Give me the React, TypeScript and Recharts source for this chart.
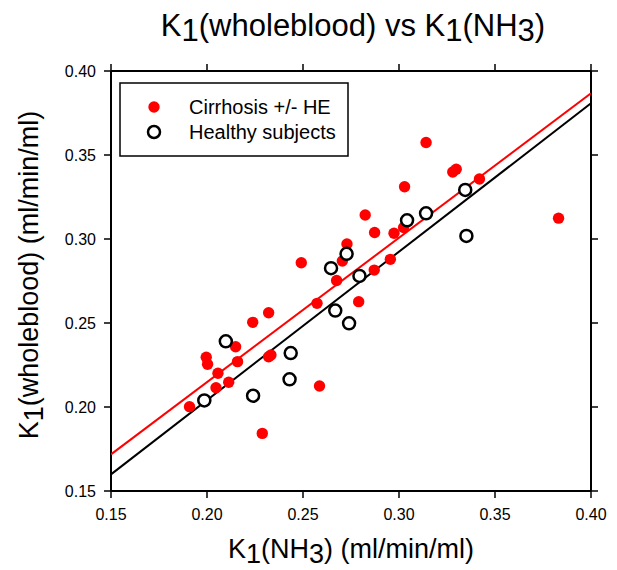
import { ScatterChart, Scatter, XAxis, YAxis } from "recharts";

// values
const cirrhosisX = [
  0.1909, 0.1996, 0.2003, 0.2057, 0.2047, 0.2113, 0.2149, 0.2159, 0.2238, 0.2321, 0.2321,
  0.2333, 0.2288, 0.2491, 0.2573, 0.2586, 0.2675, 0.2705, 0.2729, 0.279, 0.2824, 0.2873,
  0.2871, 0.2955, 0.2974, 0.3024, 0.3029, 0.3141, 0.328, 0.3298, 0.3419, 0.3831,
];
const cirrhosisY = [
  0.2002, 0.2296, 0.2254, 0.2201, 0.2115, 0.2147, 0.2359, 0.227, 0.2504, 0.2561, 0.2299,
  0.231, 0.1843, 0.2859, 0.2617, 0.2125, 0.2753, 0.2869, 0.297, 0.2627, 0.3143, 0.3039,
  0.2815, 0.2879, 0.3034, 0.3068, 0.3311, 0.3574, 0.3399, 0.3415, 0.3357, 0.3124,
];
const healthyX = [
  0.1986, 0.2098, 0.224, 0.2436, 0.243, 0.2646, 0.2668, 0.274, 0.2727, 0.2794, 0.3042,
  0.3141, 0.3345, 0.3351,
];
const healthyY = [
  0.2039, 0.2391, 0.2067, 0.2321, 0.2165, 0.2826, 0.2574, 0.2498, 0.2912, 0.278, 0.3111,
  0.3153, 0.3292, 0.3018,
];

// regression lines, end points at the axis limits
const fitX = [0.15, 0.4];
const cirrhosisFitY = [0.1718, 0.3867];
const healthyFitY = [0.1599, 0.3808];

const ticks = [0.15, 0.2, 0.25, 0.3, 0.35, 0.4];

const toPoints = (xs: number[], ys: number[]) => xs.map((x, i) => ({ x, y: ys[i] }));

const cirrhosis = toPoints(cirrhosisX, cirrhosisY);
const healthy = toPoints(healthyX, healthyY);
const cirrhosisFit = toPoints(fitX, cirrhosisFitY);
const healthyFit = toPoints(fitX, healthyFitY);

const FONT = "Arial, 'Liberation Sans', sans-serif";

const RedDot = (props: any) => <circle cx={props.cx} cy={props.cy} r={5.7} fill="#ff0000" />;
const OpenDot = (props: any) => (
  <circle cx={props.cx} cy={props.cy} r={6} fill="#fff" stroke="#000" strokeWidth={2.5} />
);
const NoDot = () => <g />;
const NoTick = () => <g />;

const axisLine = { stroke: "#000", strokeWidth: 2 };
const tickLine = { stroke: "#000", strokeWidth: 1.5 };
const tickText = { fill: "#000", fontSize: 16, fontFamily: FONT };

export default function App() {
  return (
    <div style={{ position: "absolute", left: 0, top: 0, width: 617, height: 570, background: "#fff" }}>
      <ScatterChart width={617} height={570} margin={{ top: 70, right: 25, bottom: 39, left: 51 }}>
        <XAxis
          type="number"
          dataKey="x"
          domain={[0.15, 0.4]}
          ticks={ticks}
          allowDataOverflow
          tickFormatter={(v: number) => v.toFixed(2)}
          height={40}
          tickSize={7}
          tickMargin={11}
          axisLine={axisLine}
          tickLine={tickLine}
          fontSize={16}
          tick={tickText}
        />
        <YAxis
          type="number"
          dataKey="y"
          domain={[0.15, 0.4]}
          ticks={ticks}
          allowDataOverflow
          tickFormatter={(v: number) => v.toFixed(2)}
          width={60}
          tickSize={7}
          tickMargin={8}
          axisLine={axisLine}
          tickLine={tickLine}
          fontSize={16}
          tick={tickText}
        />
        {/* box: top and right axes with outward ticks, no labels */}
        <XAxis
          xAxisId="top"
          orientation="top"
          type="number"
          dataKey="x"
          domain={[0.15, 0.4]}
          ticks={ticks}
          allowDataOverflow
          height={1}
          tickSize={7}
          tick={NoTick}
          axisLine={axisLine}
          tickLine={tickLine}
        />
        <YAxis
          yAxisId="right"
          orientation="right"
          type="number"
          dataKey="y"
          domain={[0.15, 0.4]}
          ticks={ticks}
          allowDataOverflow
          width={1}
          tickSize={7}
          tick={NoTick}
          axisLine={axisLine}
          tickLine={tickLine}
        />
        <Scatter
          data={cirrhosisFit}
          xAxisId="top"
          yAxisId="right"
          line={{ stroke: "#ff0000", strokeWidth: 2 }}
          lineType="joint"
          shape={NoDot}
          isAnimationActive={false}
        />
        <Scatter
          data={healthyFit}
          line={{ stroke: "#000", strokeWidth: 2 }}
          lineType="joint"
          shape={NoDot}
          isAnimationActive={false}
        />
        <Scatter data={cirrhosis} shape={RedDot} isAnimationActive={false} />
        <Scatter data={healthy} shape={OpenDot} isAnimationActive={false} />
      </ScatterChart>

      {/* title, axis titles and legend drawn on top */}
      <svg
        width={617}
        height={570}
        style={{ position: "absolute", left: 0, top: 0, pointerEvents: "none" }}
        fontFamily={FONT}
      >
        <text x={353} y={36} fontSize={31} textAnchor="middle" fill="#000">
          K<tspan dy={5}>1</tspan>
          <tspan dy={-5}>(wholeblood) vs K</tspan>
          <tspan dy={5}>1</tspan>
          <tspan dy={-5}>(NH</tspan>
          <tspan dy={5}>3</tspan>
          <tspan dy={-5}>)</tspan>
        </text>
        <text x={351} y={558} fontSize={27} textAnchor="middle" fill="#000">
          K<tspan dy={5}>1</tspan>
          <tspan dy={-5}>(NH</tspan>
          <tspan dy={5}>3</tspan>
          <tspan dy={-5}>) (ml/min/ml)</tspan>
        </text>
        <text transform="translate(38,275) rotate(-90)" fontSize={27} textAnchor="middle" fill="#000">
          K<tspan dy={5}>1</tspan>
          <tspan dy={-5}>(wholeblood) (ml/min/ml)</tspan>
        </text>

        <rect x={120} y={83} width={228} height={73} fill="#fff" stroke="#000" strokeWidth={1.5} />
        <circle cx={154} cy={107} r={5.7} fill="#ff0000" />
        <text x={189} y={114} fontSize={20} fill="#000">
          Cirrhosis +/- HE
        </text>
        <circle cx={154} cy={132} r={6} fill="#fff" stroke="#000" strokeWidth={2.5} />
        <text x={189} y={139} fontSize={20} fill="#000">
          Healthy subjects
        </text>
      </svg>
    </div>
  );
}
